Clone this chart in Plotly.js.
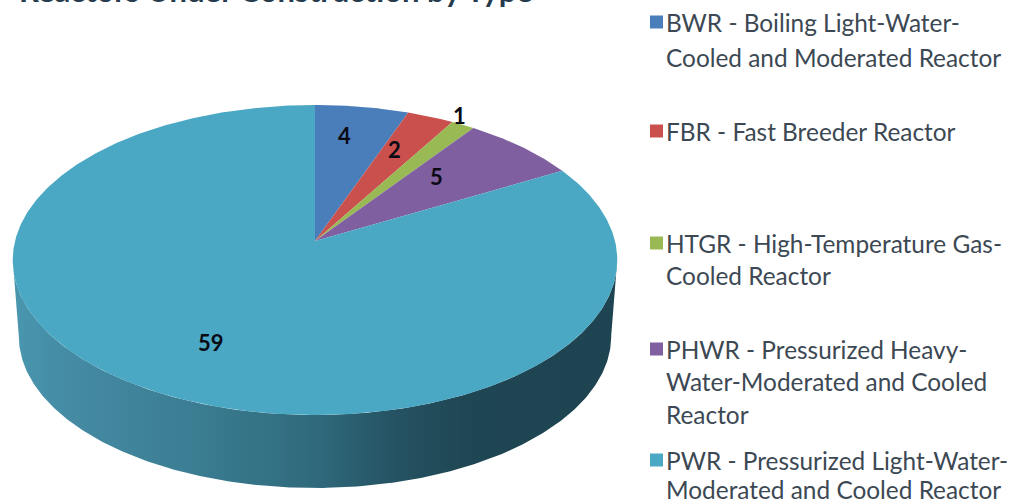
<!DOCTYPE html>
<html>
<head>
<meta charset="utf-8">
<script src="https://cdn.plot.ly/plotly-3.0.1.min.js"></script>
<style>html,body{margin:0;padding:0;background:#fff}#chart{width:1015px;height:503px}</style>
</head>
<body>
<div id="chart"></div>
<script>
// ---- data ----
var categories = ['BWR', 'FBR', 'HTGR', 'PHWR', 'PWR'];
var values = [4, 2, 1, 5, 59];
var colors = ['#4a7ebb', '#c9504c', '#98b954', '#7f5f9f', '#4aa8c4'];
var legendLines = [
  ['BWR - Boiling Light-Water-', 'Cooled and Moderated Reactor'],
  ['FBR - Fast Breeder Reactor'],
  ['HTGR - High-Temperature Gas-', 'Cooled Reactor'],
  ['PHWR - Pressurized Heavy-', 'Water-Moderated and Cooled', 'Reactor'],
  ['PWR - Pressurized Light-Water-', 'Moderated and Cooled Reactor']
];

// ---- layout constants ----
var legendY = [[22, 57], [131], [243, 275], [349, 381, 414], [460, 489]];
var labelPos = [[344, 135], [394, 149], [459, 115], [436, 176], [211, 342]];
var legendTextX = 664, swatchX = 650, swatchSize = 13;
var legendFont = 'Lato, "Open Sans", sans-serif';

// perspective disc: apex at centre, tilted toward the viewer
var cx = 315, cy = 241, b = 300, a = 152.7, k = 0.1226;
function project(theta) {
  var X = Math.sin(theta), Y = Math.cos(theta), w = 1 / (1 + k * Y);
  return [cx + b * X * w, cy - a * Y * w];
}
function arc(t0, t1) {
  var n = Math.max(2, Math.ceil(Math.abs(t1 - t0) / 0.01)), pts = [];
  for (var i = 0; i <= n; i++) pts.push(project(t0 + (t1 - t0) * i / n));
  return pts;
}
var total = values.reduce(function (s, v) { return s + v; }, 0);
var traces = [];

// side wall (front half of the disc extruded downward)
var wallDepth = 76, wallShrink = 0.98, ellipseMidY = 262;
var thetaA = Math.PI / 2 + 0.12, thetaB = 3 * Math.PI / 2 - 0.12;
var topEdge = arc(thetaA, thetaB);
var lowEdge = topEdge.map(function (p) {
  return [cx + (p[0] - cx) * wallShrink, ellipseMidY + (p[1] - ellipseMidY) * wallShrink + wallDepth];
}).reverse();
var wall = topEdge.concat(lowEdge);
wall.push(wall[0]);
traces.push({
  type: 'scatter', mode: 'lines', hoverinfo: 'skip', showlegend: false,
  x: wall.map(function (p) { return p[0]; }),
  y: wall.map(function (p) { return p[1]; }),
  line: { width: 0, color: 'rgba(0,0,0,0)' },
  fill: 'toself',
  fillgradient: {
    type: 'horizontal', start: 12, stop: 617,
    colorscale: [[0, '#4a97b0'], [0.08, '#458ca5'], [0.3, '#3b7d92'], [0.5, '#2f6a7c'], [0.65, '#245060'], [0.75, '#1f4753'], [1, '#1d4450']]
  }
});

// top-face slices computed from the values
var acc = 0;
values.forEach(function (v, i) {
  var t0 = acc / total * 2 * Math.PI;
  acc += v;
  var t1 = acc / total * 2 * Math.PI;
  var pts = [[cx, cy]].concat(arc(t0, t1));
  pts.push([cx, cy]);
  traces.push({
    type: 'scatter', mode: 'lines', name: categories[i], showlegend: false,
    x: pts.map(function (p) { return p[0]; }),
    y: pts.map(function (p) { return p[1]; }),
    line: { width: 0, color: colors[i] },
    fill: 'toself', fillcolor: colors[i],
    hoverinfo: 'text', text: categories[i] + ': ' + v
  });
});

// value labels and legend
var annotations = values.map(function (v, i) {
  return {
    x: labelPos[i][0], y: labelPos[i][1], xref: 'x', yref: 'y', showarrow: false,
    text: '<b>' + v + '</b>', font: { family: legendFont, size: 22, color: '#0a0a14' }
  };
});
var shapes = [];
legendLines.forEach(function (lines, i) {
  lines.forEach(function (line, j) {
    annotations.push({
      x: legendTextX, y: legendY[i][j], xref: 'x', yref: 'y', xanchor: 'left', yanchor: 'middle',
      showarrow: false, text: line, font: { family: legendFont, size: 24.4, color: '#3c4853' }
    });
  });
  shapes.push({
    type: 'rect', xref: 'x', yref: 'y', line: { width: 0 }, fillcolor: colors[i],
    x0: swatchX, x1: swatchX + swatchSize,
    y0: legendY[i][0] - swatchSize / 2, y1: legendY[i][0] + swatchSize / 2
  });
});
// title cut by the top edge of the picture, as in the reference
annotations.push({
  x: 17, y: 11, xref: 'x', yref: 'y', xanchor: 'left', yanchor: 'bottom', showarrow: false,
  text: '<b>Reactors Under Construction by Type</b>',
  font: { family: legendFont, size: 31, color: '#263c4e' }
});

Plotly.newPlot('chart', traces, {
  width: 1015, height: 503,
  margin: { l: 0, r: 0, t: 0, b: 0 },
  paper_bgcolor: '#ffffff', plot_bgcolor: '#ffffff',
  showlegend: false,
  xaxis: { range: [0, 1015], visible: false, fixedrange: true },
  yaxis: { range: [503, 0], visible: false, fixedrange: true },
  annotations: annotations, shapes: shapes
}, { displayModeBar: false, staticPlot: true });
</script>
</body>
</html>
